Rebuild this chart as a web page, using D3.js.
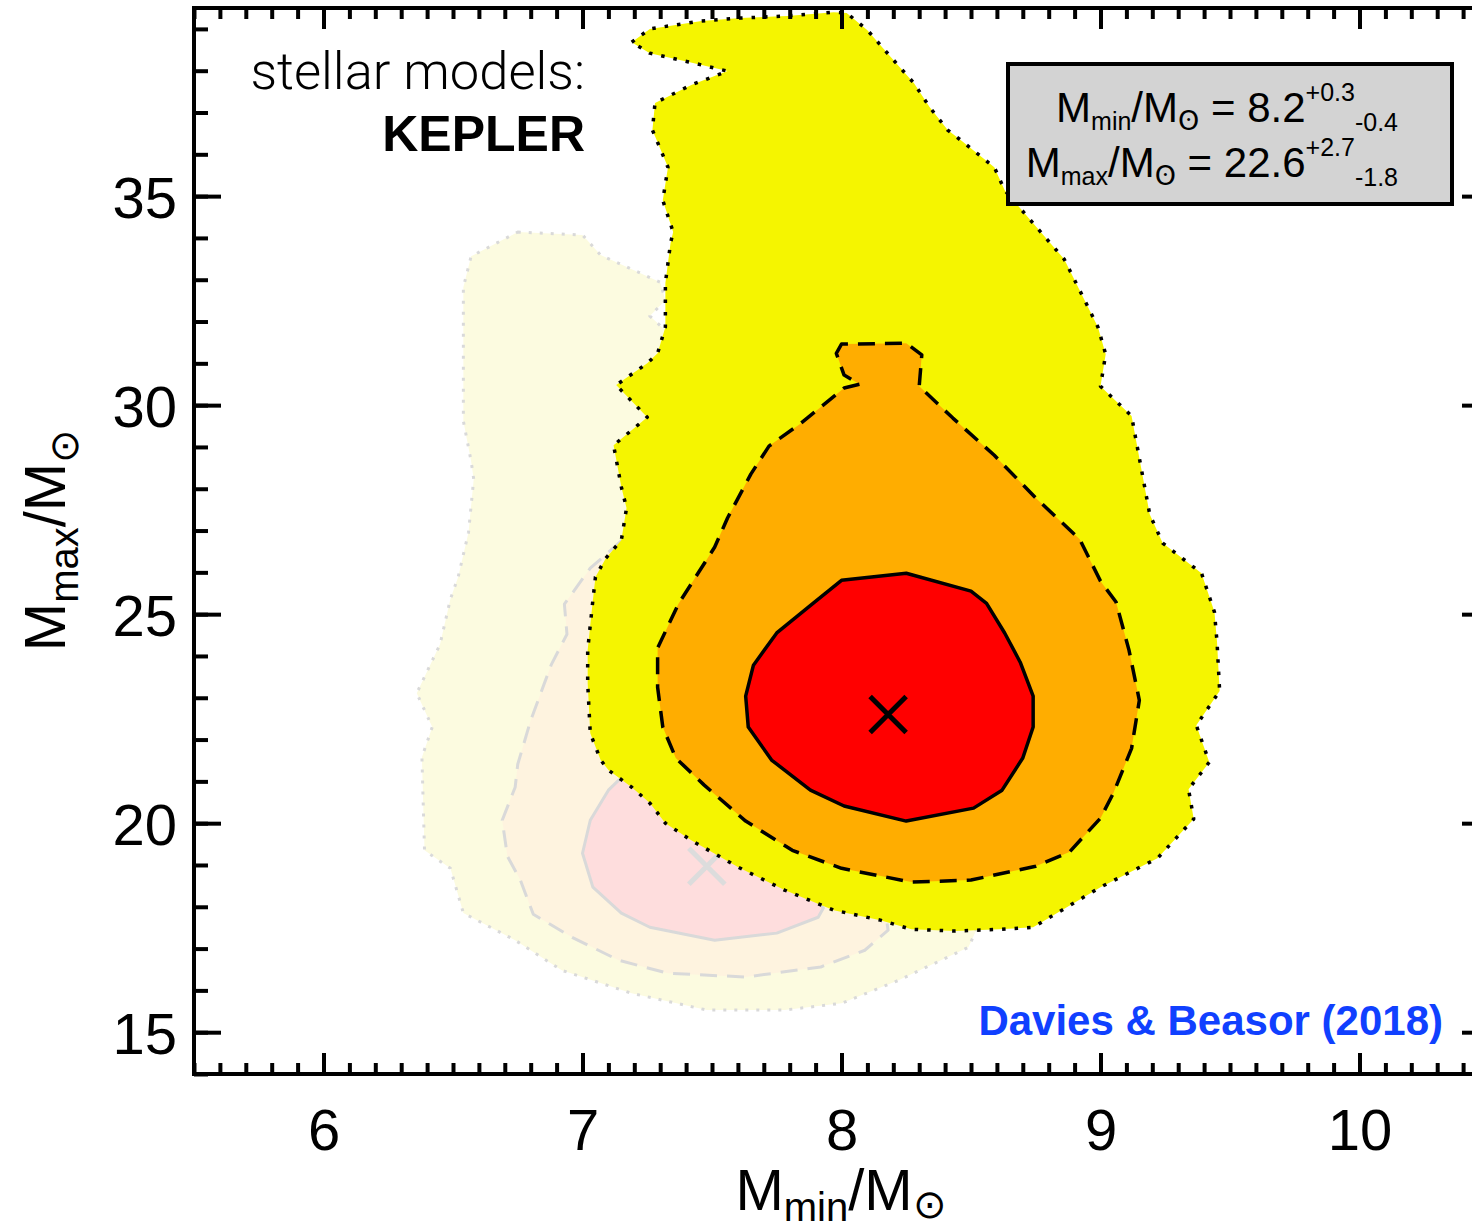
<!DOCTYPE html>
<html>
<head>
<meta charset="utf-8">
<script src="https://cdn.jsdelivr.net/npm/d3@7"></script>
<style>
  body { margin: 0; background: #fff; }
  svg { display: block; }
</style>
</head>
<body>
<script>
// axes and ticks
const xDomain = [5.5, 10.5];
const yDomain = [14, 39.5];
const xTicks = [6, 7, 8, 9, 10];
const yTicks = [15, 20, 25, 30, 35];
const xMinorTicks = d3.range(55, 106).map(d => d / 10);
const yMinorTicks = d3.range(14, 40);

// faint background contours (other set of models)
const ghostOuter = [[6.75,34.14],[7.00,34.07],[7.07,33.59],[7.30,32.94],[7.32,32.51],[7.26,32.13],[7.32,31.79],
  [7.53,28.92],[7.84,22.94],[8.46,18.16],[8.52,17.44],[8.49,17.03],[8.22,16.24],[8.00,15.69],[7.78,15.53],
  [7.48,15.53],[7.19,15.93],[6.92,16.48],[6.74,17.20],[6.54,17.85],[6.49,18.92],[6.39,19.35],[6.38,21.58],
  [6.42,22.30],[6.36,23.11],[6.45,24.28],[6.49,25.36],[6.52,25.89],[6.56,26.96],[6.58,28.23],[6.57,28.66],
  [6.54,29.62],[6.54,31.22],[6.54,32.82],[6.57,33.56]];
const ghostMiddle = [[7.15,26.75],[7.03,26.10],[6.93,25.24],[6.94,24.52],[6.88,23.80],[6.80,22.46],[6.75,21.41],
  [6.74,20.86],[6.69,20.07],[6.71,19.21],[6.76,18.64],[6.81,17.82],[6.96,17.27],[7.14,16.72],[7.33,16.41],
  [7.63,16.32],[7.92,16.56],[8.09,16.96],[8.18,17.44],[8.15,18.64],[7.46,22.94],[7.22,26.17]];
const ghostInner = [[7.14,21.03],[7.10,20.79],[7.03,20.07],[7.00,19.28],[7.04,18.47],[7.15,17.85],[7.26,17.51],
  [7.51,17.20],[7.75,17.37],[7.91,17.75],[7.93,17.97],[7.76,19.11],[7.46,20.55],[7.22,21.27]];
const ghostBest = [7.48, 18.97];

// KEPLER contours
const outer = [[7.19,38.68],[7.26,39.00],[7.46,39.19],[7.61,39.26],[7.79,39.31],[7.97,39.40],[8.02,39.38],
  [8.10,38.97],[8.19,38.33],[8.28,37.70],[8.34,37.13],[8.41,36.58],[8.46,36.34],[8.59,35.69],[8.63,35.14],
  [8.68,34.78],[8.86,33.49],[8.99,31.87],[9.02,31.22],[9.00,30.45],[9.12,29.74],[9.19,27.39],[9.24,26.70],
  [9.39,25.98],[9.44,25.05],[9.45,24.33],[9.46,23.16],[9.37,22.34],[9.42,21.46],[9.34,20.81],[9.36,20.10],
  [9.22,19.16],[9.00,18.47],[8.74,17.51],[8.61,17.46],[8.44,17.42],[8.27,17.46],[8.15,17.68],[7.97,17.92],
  [7.78,18.40],[7.60,18.95],[7.42,19.59],[7.32,20.00],[7.26,20.48],[7.19,20.86],[7.10,21.27],[7.07,21.51],
  [7.03,22.15],[7.02,23.35],[7.02,24.14],[7.04,25.33],[7.05,25.89],[7.09,26.34],[7.15,26.77],[7.17,27.54],
  [7.15,28.04],[7.12,29.04],[7.25,29.71],[7.13,30.48],[7.25,31.00],[7.29,31.24],[7.32,31.87],[7.32,32.92],
  [7.34,33.88],[7.35,34.14],[7.31,34.90],[7.33,35.69],[7.27,36.58],[7.28,37.23],[7.42,37.66],[7.56,37.99],
  [7.41,38.21],[7.26,38.42]];
const middle = [[7.98,31.24],[8.00,31.46],[8.25,31.48],[8.31,31.20],[8.30,30.45],[8.43,29.69],[8.59,28.80],
  [8.75,27.78],[8.92,26.79],[9.00,25.79],[9.06,25.29],[9.11,24.14],[9.15,22.94],[9.12,21.79],[9.05,20.72],
  [9.00,20.12],[8.88,19.31],[8.75,18.97],[8.50,18.64],[8.27,18.59],[8.00,18.92],[7.81,19.35],[7.63,20.05],
  [7.47,20.91],[7.36,21.56],[7.31,22.30],[7.29,23.25],[7.29,24.19],[7.37,25.24],[7.51,26.60],[7.56,27.30],
  [7.65,28.35],[7.72,29.02],[7.84,29.55],[8.01,30.41],[8.07,30.50],[8.01,30.72]];
const inner = [[8.00,25.81],[8.25,25.98],[8.50,25.55],[8.56,25.26],[8.63,24.55],[8.69,23.85],[8.74,23.04],
  [8.74,22.30],[8.70,21.56],[8.62,20.79],[8.51,20.36],[8.25,20.05],[8.01,20.41],[7.88,20.79],[7.73,21.51],
  [7.64,22.30],[7.63,23.04],[7.66,23.78],[7.75,24.55],[7.89,25.26]];
const best = [8.18, 22.6];

const W = 1472, H = 1231;
const svg = d3.select('body').append('svg').attr('width', W).attr('height', H);

const x = d3.scaleLinear().domain(xDomain).range([194, 1489]);
const y = d3.scaleLinear().domain(yDomain).range([1074, 8]);

const line = d3.line().x(d => x(d[0])).y(d => y(d[1]));

// draw a filled contour with its outline
function contour(pts, fill, stroke, width, dash) {
  svg.append('path')
    .attr('d', line(pts) + 'Z')
    .attr('fill', fill)
    .attr('stroke', stroke)
    .attr('stroke-width', width)
    .attr('stroke-dasharray', dash)
    .attr('stroke-linejoin', 'round');
}

function cross(p, color) {
  const s = 18;
  const cx = x(p[0]), cy = y(p[1]);
  svg.append('path')
    .attr('d', `M${cx - s},${cy - s}L${cx + s},${cy + s}M${cx - s},${cy + s}L${cx + s},${cy - s}`)
    .attr('stroke', color)
    .attr('stroke-width', 5)
    .attr('fill', 'none');
}

// ghost contours
contour(ghostOuter, '#fcfbe0', '#d9d9d9', 3, '3 8');
contour(ghostMiddle, '#fef3df', '#d9d9d9', 3, '17 10');
contour(ghostInner, '#fedddd', '#d9d9d9', 3, null);
cross(ghostBest, '#dcdcdc');

// KEPLER contours
contour(outer, '#f5f500', '#000', 3.5, '3.5 9');
contour(middle, '#ffad00', '#000', 3.5, '17 10');
contour(inner, '#ff0000', '#000', 3.5, null);
cross(best, '#000');

// axes
const font = "'Liberation Sans', Arial, Helvetica, sans-serif";

function styleAxis(g) {
  g.select('.domain').remove();
  g.selectAll('line').attr('stroke', '#000').attr('stroke-width', 4);
  g.selectAll('text').attr('font-family', font).attr('font-size', 58).attr('fill', '#000');
}

svg.append('g').attr('transform', 'translate(0,1074)')
  .call(d3.axisBottom(x).tickValues(xTicks).tickSize(-21).tickPadding(35).tickFormat(d3.format('d')))
  .call(styleAxis);
svg.append('g').attr('transform', 'translate(0,1074)')
  .call(d3.axisBottom(x).tickValues(xMinorTicks).tickSize(-11).tickFormat(''))
  .call(styleAxis);
svg.append('g').attr('transform', 'translate(0,8)')
  .call(d3.axisTop(x).tickValues(xTicks).tickSize(-21).tickFormat(''))
  .call(styleAxis);
svg.append('g').attr('transform', 'translate(0,8)')
  .call(d3.axisTop(x).tickValues(xMinorTicks).tickSize(-11).tickFormat(''))
  .call(styleAxis);

svg.append('g').attr('transform', 'translate(194,0)')
  .call(d3.axisLeft(y).tickValues(yTicks).tickSize(-27).tickPadding(17).tickFormat(d3.format('d')))
  .call(styleAxis)
  .selectAll('text').attr('dy', '0.36em');
svg.append('g').attr('transform', 'translate(194,0)')
  .call(d3.axisLeft(y).tickValues(yMinorTicks).tickSize(-14).tickFormat(''))
  .call(styleAxis);
svg.append('g').attr('transform', 'translate(1489,0)')
  .call(d3.axisRight(y).tickValues(yTicks).tickSize(-27).tickFormat(''))
  .call(styleAxis);
svg.append('g').attr('transform', 'translate(1489,0)')
  .call(d3.axisRight(y).tickValues(yMinorTicks).tickSize(-14).tickFormat(''))
  .call(styleAxis);

// frame
svg.append('rect')
  .attr('x', x(xDomain[0])).attr('y', y(yDomain[1]))
  .attr('width', x(xDomain[1]) - x(xDomain[0]))
  .attr('height', y(yDomain[0]) - y(yDomain[1]))
  .attr('fill', 'none').attr('stroke', '#000').attr('stroke-width', 4);

// axis titles
const xt = svg.append('text')
  .attr('x', 841).attr('y', 1210)
  .attr('text-anchor', 'middle')
  .attr('font-family', font).attr('font-size', 58);
xt.append('tspan').text('M');
xt.append('tspan').attr('font-size', 40).attr('dy', 11).text('min');
xt.append('tspan').attr('dy', -11).text('/M');
xt.append('tspan').attr('font-size', 40).attr('dy', 8).text('⊙');

const yt = svg.append('text')
  .attr('transform', 'translate(65,540) rotate(-90)')
  .attr('text-anchor', 'middle')
  .attr('font-family', font).attr('font-size', 58);
yt.append('tspan').text('M');
yt.append('tspan').attr('font-size', 40).attr('dy', 13).text('max');
yt.append('tspan').attr('dy', -13).text('/M');
yt.append('tspan').attr('font-size', 40).attr('dy', 13).text('⊙');

// label top left
svg.append('text')
  .attr('x', 585).attr('y', 89)
  .attr('text-anchor', 'end')
  .attr('font-family', "Roboto, 'Liberation Sans', sans-serif")
  .attr('font-weight', 300)
  .attr('font-size', 52.5)
  .text('stellar models:');
svg.append('text')
  .attr('x', 585).attr('y', 151)
  .attr('text-anchor', 'end')
  .attr('font-family', font)
  .attr('font-weight', 'bold')
  .attr('font-size', 50)
  .text('KEPLER');

// result box
svg.append('rect')
  .attr('x', 1008).attr('y', 64).attr('width', 444).attr('height', 140)
  .attr('fill', '#d3d3d3').attr('stroke', '#000').attr('stroke-width', 4);

const results = [
  { sub: 'min', val: '8.2', plus: '+0.3', minus: '-0.4', y: 122 },
  { sub: 'max', val: '22.6', plus: '+2.7', minus: '-1.8', y: 177 }
];
results.forEach(r => {
  const t = svg.append('text')
    .attr('x', 1398).attr('y', r.y)
    .attr('text-anchor', 'end')
    .attr('font-family', font).attr('font-size', 42);
  t.append('tspan').text('M');
  t.append('tspan').attr('font-size', 25).attr('dy', 8).text(r.sub);
  t.append('tspan').attr('dy', -8).text('/M');
  t.append('tspan').attr('font-size', 27).attr('dy', 8)
    .attr('font-family', "'DejaVu Sans', sans-serif").text('ʘ');
  t.append('tspan').attr('dy', -8).text(' = ' + r.val);
  t.append('tspan').attr('font-size', 25).attr('dy', -21).text(r.plus);
  t.append('tspan').attr('font-size', 25).attr('dy', 30).text(r.minus);
});

// reference
svg.append('text')
  .attr('x', 1443).attr('y', 1035)
  .attr('text-anchor', 'end')
  .attr('font-family', font)
  .attr('font-weight', 'bold')
  .attr('font-size', 42)
  .attr('fill', '#1040ff')
  .text('Davies & Beasor (2018)');
</script>
</body>
</html>
